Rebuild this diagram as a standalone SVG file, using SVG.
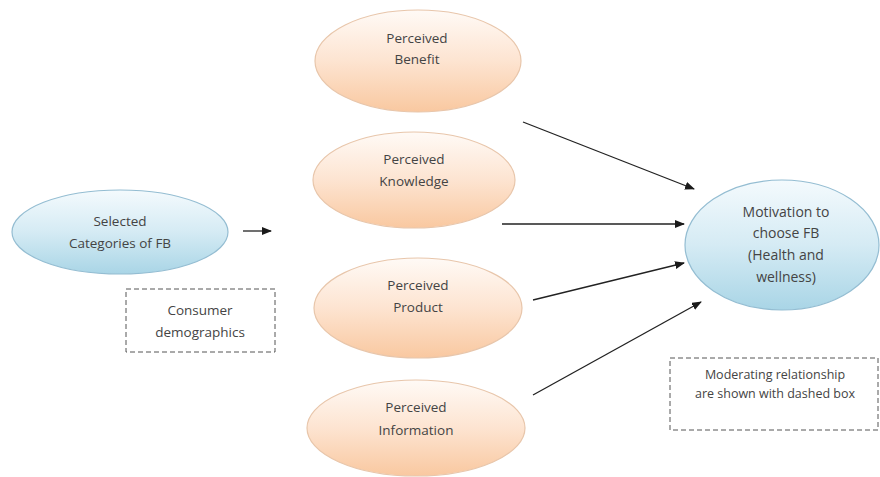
<svg xmlns="http://www.w3.org/2000/svg" width="880" height="477" viewBox="0 0 880 477">
<defs>
<linearGradient id="gBlue" x1="0" y1="0" x2="0" y2="1">
<stop offset="0" stop-color="#f4fafd"/>
<stop offset="0.5" stop-color="#d5ebf4"/>
<stop offset="1" stop-color="#a9d5e6"/>
</linearGradient>
<linearGradient id="gOrange" x1="0" y1="0" x2="0" y2="1">
<stop offset="0" stop-color="#fffaf6"/>
<stop offset="0.5" stop-color="#fde4d1"/>
<stop offset="1" stop-color="#f9c8a0"/>
</linearGradient>
<marker id="arr" markerWidth="10" markerHeight="8" refX="9" refY="4" orient="auto" markerUnits="userSpaceOnUse">
<path d="M0,0 L10,4 L0,8 Z" fill="#1a1a1a"/>
</marker>
<style>
.blue{fill:url(#gBlue);stroke:#94bdd2;stroke-width:1.2}
.orange{fill:url(#gOrange);stroke:#e8c6ab;stroke-width:1.2}
.t{font-family:"Open Sans","Liberation Sans",sans-serif;font-size:13.5px;fill:#444;text-anchor:middle}
.dash{fill:none;stroke:#555;stroke-width:1;stroke-dasharray:5,3}
.conn{stroke:#222;stroke-width:1.3;fill:none;marker-end:url(#arr)}
</style>
</defs>
<rect width="880" height="477" fill="#fff"/>

<g id="selected">
<ellipse class="blue" cx="120" cy="232" rx="108" ry="42"/>
<text class="t" x="120" y="226">Selected</text>
<text class="t" x="120" y="248">Categories of FB</text>
</g>

<g id="demographics">
<rect class="dash" x="126" y="289" width="149" height="63"/>
<text class="t" x="200" y="315">Consumer</text>
<text class="t" x="200" y="337">demographics</text>
</g>

<g id="benefit">
<ellipse class="orange" cx="418" cy="61" rx="103" ry="51"/>
<text class="t" x="417" y="43">Perceived</text>
<text class="t" x="417" y="64">Benefit</text>
</g>

<g id="knowledge">
<ellipse class="orange" cx="414" cy="180" rx="101" ry="48"/>
<text class="t" x="414" y="164">Perceived</text>
<text class="t" x="414" y="186">Knowledge</text>
</g>

<g id="product">
<ellipse class="orange" cx="418" cy="308" rx="104" ry="50"/>
<text class="t" x="418" y="290">Perceived</text>
<text class="t" x="418" y="312">Product</text>
</g>

<g id="information">
<ellipse class="orange" cx="416" cy="428" rx="109" ry="48"/>
<text class="t" x="416" y="412">Perceived</text>
<text class="t" x="416" y="435">Information</text>
</g>

<g id="motivation">
<ellipse class="blue" cx="782" cy="245" rx="97" ry="65"/>
<text class="t" x="786" y="217" style="font-size:14px">Motivation to</text>
<text class="t" x="786" y="238" style="font-size:14px">choose FB</text>
<text class="t" x="786" y="260" style="font-size:14px">(Health and</text>
<text class="t" x="786" y="282" style="font-size:14px">wellness)</text>
</g>

<g id="moderating">
<rect class="dash" x="670" y="358" width="208" height="72"/>
<text class="t" x="775" y="379" style="font-size:12.5px">Moderating relationship</text>
<text class="t" x="775" y="398" style="font-size:12.5px">are shown with dashed box</text>
</g>

<g id="connectors">
<line class="conn" x1="243" y1="231" x2="271" y2="231"/>
<line class="conn" x1="523" y1="122" x2="694" y2="189"/>
<line class="conn" x1="502" y1="224" x2="684" y2="224"/>
<line class="conn" x1="533" y1="300" x2="684" y2="263"/>
<line class="conn" x1="533" y1="395" x2="701" y2="302"/>
</g>
</svg>
